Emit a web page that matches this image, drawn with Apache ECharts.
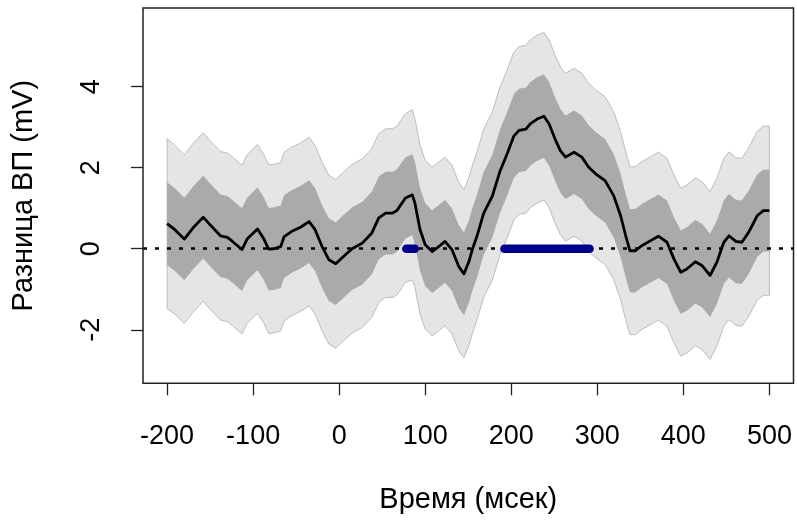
<!DOCTYPE html>
<html>
<head>
<meta charset="utf-8">
<script src="https://cdn.jsdelivr.net/npm/echarts@6.0.0/dist/echarts.min.js"></script>
<style>
html,body{margin:0;padding:0;background:#fff;}
#chart{width:797px;height:526px;}
</style>
</head>
<body>
<div id="chart"></div>
<script>
// ---- data ----
const times = [-200,-191,-180,-170,-158,-150,-138,-130,-124,-113,-107,-95,-88,-82,-76,-68,-64,-55,-45,-35,-28,-20,-12,-4,5,15,27,38,46,54,62,67,77,85,88,94,100,108,116,123,131,139,145,151,155,160,168,178,187,195,203,209,217,222,230,238,244,251,257,263,273,282,290,298,309,319,327,333,338,344,352,362,371,381,389,397,404,414,422,431,439,447,453,461,468,476,486,493,500];
const meanDiff = [0.62,0.47,0.24,0.51,0.78,0.59,0.32,0.28,0.18,-0.02,
  0.24,0.49,0.26,-0.01,0.0,0.05,0.30,0.43,0.53,0.67,
  0.47,0.06,-0.27,-0.37,-0.19,0.0,0.14,0.39,0.76,0.88,
  0.88,0.94,1.25,1.33,1.13,0.47,0.10,-0.07,0.06,0.18,
  -0.02,-0.44,-0.62,-0.30,0.0,0.30,0.88,1.30,1.92,2.33,
  2.78,2.92,2.95,3.08,3.20,3.27,3.08,2.70,2.42,2.26,
  2.38,2.26,2.01,1.85,1.68,1.31,0.82,0.32,-0.05,-0.05,
  0.08,0.20,0.31,0.16,-0.25,-0.58,-0.50,-0.32,-0.42,-0.66,
  -0.33,0.16,0.32,0.18,0.16,0.41,0.82,0.94,0.94];
// half widths of the outer (light) and inner (dark) bands, read per sample
const outerHalf = [2.10,2.08,2.08,2.08,2.08,2.08,2.08,2.08,2.08,2.08,
  2.08,2.08,2.08,2.08,2.08,2.08,2.08,2.08,2.08,2.08,
  2.08,2.08,2.08,2.08,2.08,2.08,2.08,2.08,2.08,2.08,
  2.08,2.08,2.08,2.10,2.08,2.08,2.08,2.08,2.08,2.08,
  2.08,2.08,2.07,2.07,2.07,2.07,2.07,2.07,2.07,2.07,
  2.07,2.07,2.07,2.07,2.07,2.07,2.07,2.07,2.07,2.07,
  2.07,2.07,2.07,2.07,2.07,2.07,2.07,2.07,2.07,2.07,
  2.07,2.07,2.07,2.07,2.07,2.07,2.07,2.07,2.07,2.07,
  2.07,2.07,2.07,2.07,2.07,2.08,2.08,2.09,2.09];
const innerHalf = [1.02,1.02,1.02,1.02,1.02,1.02,1.02,1.02,1.02,1.02,
  1.02,1.02,1.02,1.02,1.02,1.02,1.02,1.02,1.02,1.02,
  1.02,1.02,1.02,1.02,1.02,1.02,1.02,1.02,1.02,1.02,
  1.02,1.02,1.00,1.00,1.02,1.02,1.02,1.02,1.02,1.02,
  1.02,1.02,1.02,1.02,1.02,1.02,1.02,1.02,1.03,1.03,
  1.03,1.03,1.03,1.03,1.03,1.03,1.03,1.03,1.03,1.03,
  1.03,1.03,1.03,1.03,1.03,1.03,1.03,1.03,1.03,1.03,
  1.03,1.03,1.03,1.03,1.03,1.03,1.03,1.03,1.03,1.03,
  1.03,1.03,1.03,1.03,1.03,1.03,1.02,1.01,1.01];
// significant intervals (thick blue bars on the zero line)
const sigStart = [78, 192];
const sigEnd = [88, 291];
const xTicks = [-200,-100,0,100,200,300,400,500];
const yTicks = [-2,0,2,4];
const xTitle = 'Время (мсек)';
const yTitle = 'Разница ВП (mV)';

const FONT = '"Liberation Sans", Arial, sans-serif';

function bandRenderer(half, fill, stroke) {
  return function (params, api) {
    const pts = [];
    for (let i = 0; i < times.length; i++) pts.push(api.coord([times[i], meanDiff[i] + half[i]]));
    for (let i = times.length - 1; i >= 0; i--) pts.push(api.coord([times[i], meanDiff[i] - half[i]]));
    return {
      type: 'polygon',
      shape: { points: pts },
      style: stroke ? { fill: fill, stroke: stroke, lineWidth: 1 } : { fill: fill }
    };
  };
}

const chart = echarts.init(document.getElementById('chart'), null, { renderer: 'canvas' });
chart.setOption({
  animation: false,
  backgroundColor: '#ffffff',
  grid: {
    left: 143, right: 3.5, top: 8, bottom: 142.7,
    show: true, borderColor: '#222', borderWidth: 1.5,
    backgroundColor: 'transparent',
    outerBoundsMode: 'none'
  },
  xAxis: {
    type: 'value', min: -228, max: 528,
    axisLine: { show: false, onZero: false },
    splitLine: { show: false },
    axisTick: { show: true, customValues: xTicks, length: 12, lineStyle: { color: '#222', width: 1.3 } },
    axisLabel: { customValues: xTicks, fontSize: 27, color: '#000', fontFamily: FONT, margin: 40, hideOverlap: false },
    name: xTitle, nameLocation: 'middle', nameGap: 102,
    nameTextStyle: { fontSize: 29, color: '#000', fontFamily: FONT }
  },
  yAxis: {
    type: 'value', min: -3.32, max: 5.94,
    axisLine: { show: false, onZero: false },
    splitLine: { show: false },
    axisTick: { show: true, customValues: yTicks, length: 12, lineStyle: { color: '#222', width: 1.3 } },
    axisLabel: { customValues: yTicks, fontSize: 27, color: '#000', fontFamily: FONT, margin: 38, rotate: 90, hideOverlap: false },
    name: yTitle, nameLocation: 'middle', nameGap: 105, nameRotate: 90,
    nameTextStyle: { fontSize: 29, color: '#000', fontFamily: FONT }
  },
  series: [
    {
      type: 'custom', name: 'outer', silent: true, z: 1,
      renderItem: bandRenderer(outerHalf, '#e5e5e5', '#bdbdbd'),
      data: [[times[0], meanDiff[0]]]
    },
    {
      type: 'custom', name: 'inner', silent: true, z: 2,
      renderItem: bandRenderer(innerHalf, '#aaaaaa', null),
      data: [[times[0], meanDiff[0]]]
    },
    {
      type: 'line', name: 'zero', silent: true, z: 3,
      data: [],
      markLine: {
        silent: true, symbol: ['none', 'none'], label: { show: false },
        lineStyle: { color: '#000', width: 2.5, type: [4, 8] },
        data: [{ yAxis: 0 }],
        animation: false
      }
    },
    {
      type: 'line', name: 'mean', silent: true, z: 4,
      data: times.map((t, i) => [t, meanDiff[i]]),
      showSymbol: false, symbol: 'none',
      lineStyle: { color: '#000', width: 2.8, join: 'round' }
    },
    {
      type: 'custom', name: 'sig', silent: true, z: 5,
      data: sigStart.map((s, i) => [s, sigEnd[i]]),
      encode: { x: [0, 1] },
      renderItem: function (params, api) {
        const a = api.coord([api.value(0), 0]);
        const b = api.coord([api.value(1), 0]);
        return {
          type: 'line',
          shape: { x1: a[0], y1: a[1], x2: b[0], y2: b[1] },
          style: { stroke: '#00008b', lineWidth: 8.5, lineCap: 'round' }
        };
      }
    }
  ]
});
</script>
</body>
</html>
